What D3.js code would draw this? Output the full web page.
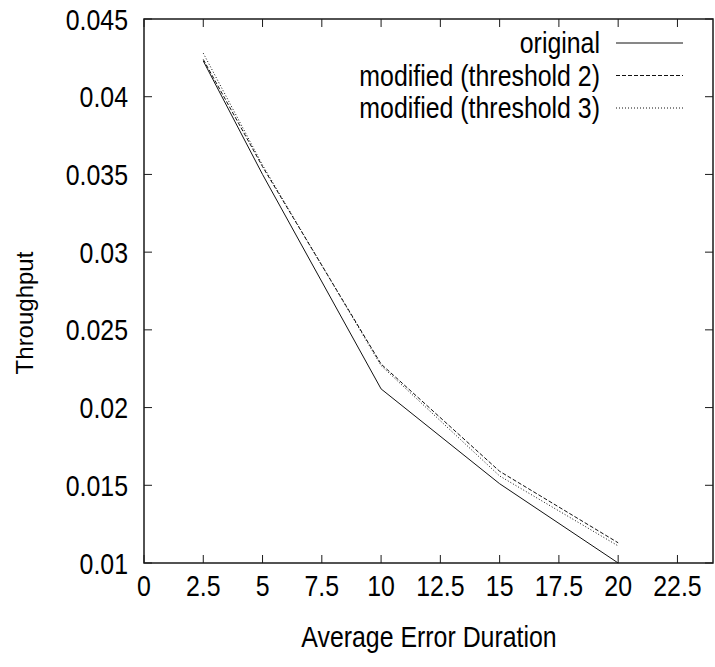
<!DOCTYPE html>
<html>
<head>
<meta charset="utf-8">
<script src="https://cdn.jsdelivr.net/npm/d3@7"></script>
<style>
  html, body { margin: 0; padding: 0; background: #fff; }
  svg { display: block; font-family: "Liberation Sans", Arial, Helvetica, sans-serif; }
</style>
</head>
<body>
<svg id="chart" width="715" height="667"></svg>
<script>
// ---- data ----
const xValues = [2.5, 5, 10, 15, 20];
const original = [0.0423, 0.0350, 0.0212, 0.0151, 0.0100];
const modifiedT2 = [0.0424, 0.0355, 0.0228, 0.0159, 0.0113];
const modifiedT3 = [0.0428, 0.0356, 0.0227, 0.0156, 0.0111];
const seriesNames = ["original", "modified (threshold 2)", "modified (threshold 3)"];
const xTicks = [0, 2.5, 5, 7.5, 10, 12.5, 15, 17.5, 20, 22.5];
const yTicks = [0.01, 0.015, 0.02, 0.025, 0.03, 0.035, 0.04, 0.045];
const xTitle = "Average Error Duration";
const yTitle = "Throughput";

// ---- layout ----
const svg = d3.select("#chart");
const pLeft = 144, pRight = 713, pTop = 19, pBottom = 563;
const x = d3.scaleLinear().domain([0, 24]).range([pLeft, pRight]);
const y = d3.scaleLinear().domain([0.01, 0.045]).range([pBottom, pTop]);
const ink = "#1a1a1a";
const fontSize = 30;
const sx = 0.83;

function label(parent, px, py, str, anchor, size, scaleX) {
  return parent.append("text")
    .attr("transform", `translate(${px},${py}) scale(${scaleX},1)`)
    .attr("text-anchor", anchor)
    .attr("font-size", size)
    .attr("fill", "#000")
    .text(str);
}

const series = [
  { name: seriesNames[0], values: original, dash: null },
  { name: seriesNames[1], values: modifiedT2, dash: "4,2" },
  { name: seriesNames[2], values: modifiedT3, dash: "1,2" }
];

// ticks (inward, all four sides)
const tickLen = 8;
const g = svg.append("g");
xTicks.forEach(t => {
  g.append("line").attr("x1", x(t)).attr("x2", x(t)).attr("y1", pBottom).attr("y2", pBottom - tickLen)
    .attr("stroke", ink).attr("stroke-width", 1);
  g.append("line").attr("x1", x(t)).attr("x2", x(t)).attr("y1", pTop).attr("y2", pTop + tickLen)
    .attr("stroke", ink).attr("stroke-width", 1);
  label(g, x(t), 596, d3.format("")(t), "middle", fontSize, sx);
});
yTicks.forEach(t => {
  g.append("line").attr("x1", pLeft).attr("x2", pLeft + tickLen).attr("y1", y(t)).attr("y2", y(t))
    .attr("stroke", ink).attr("stroke-width", 1);
  g.append("line").attr("x1", pRight).attr("x2", pRight - tickLen).attr("y1", y(t)).attr("y2", y(t))
    .attr("stroke", ink).attr("stroke-width", 1);
  label(g, 128, y(t) + 10.5, d3.format("")(t), "end", fontSize, sx);
});

// frame
svg.append("rect").attr("x", pLeft).attr("y", pTop).attr("width", pRight - pLeft).attr("height", pBottom - pTop)
  .attr("fill", "none").attr("stroke", ink).attr("stroke-width", 1.5);

// lines
const line = d3.line().x(d => x(d[0])).y(d => y(d[1]));
series.forEach(s => {
  svg.append("path")
    .datum(xValues.map((xv, i) => [xv, s.values[i]]))
    .attr("d", line)
    .attr("fill", "none")
    .attr("stroke", "#111")
    .attr("stroke-width", 1)
    .attr("stroke-dasharray", s.dash);
});

// legend
const legY = [43, 75.5, 108];
series.forEach((s, i) => {
  label(svg, 600, legY[i] + 10, s.name, "end", fontSize, sx);
  svg.append("line").attr("x1", 616).attr("x2", 683).attr("y1", legY[i]).attr("y2", legY[i])
    .attr("stroke", "#111").attr("stroke-width", 1).attr("stroke-dasharray", s.dash);
});

// axis titles
label(svg, 429, 647, xTitle, "middle", fontSize, sx);
svg.append("text").attr("transform", "translate(33,313) rotate(-90)").attr("text-anchor", "middle")
  .attr("font-size", 24).attr("fill", "#000").text(yTitle);
</script>
</body>
</html>
